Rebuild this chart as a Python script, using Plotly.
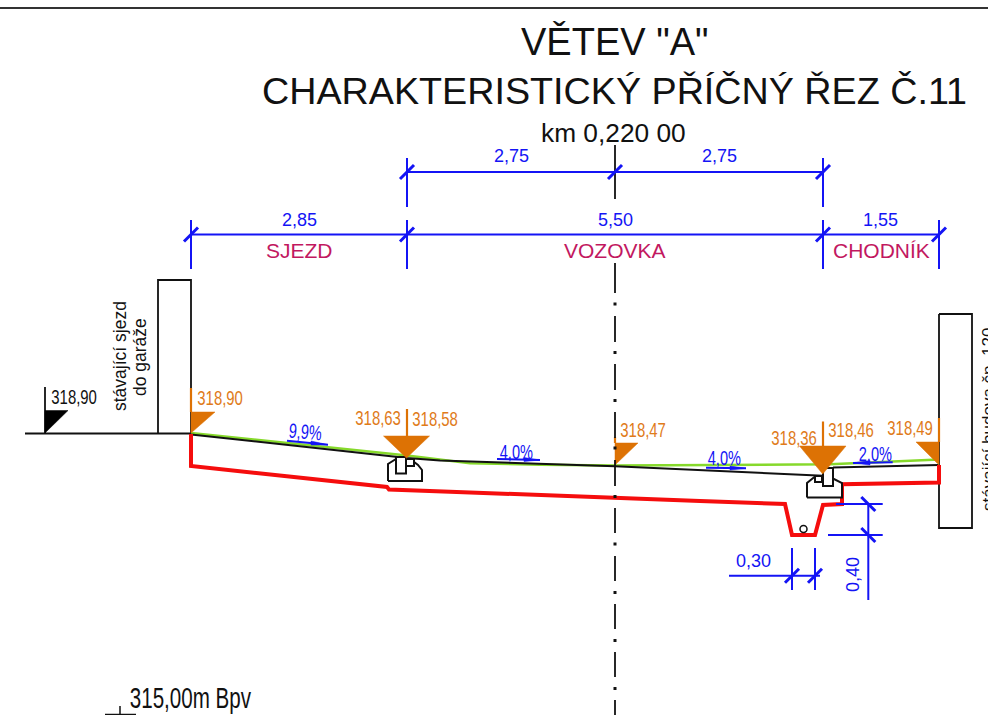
import plotly.graph_objects as go

BLUE = "#1414F5"
ORANGE = "#DD7204"
ORANGE_TXT = "#E07B1A"
RED = "#F50D0D"
GREEN = "#86D92B"
BLACK = "#111111"
MAGENTA = "#C2185F"
SANS = "Liberation Sans"
NARROW = "Liberation Sans, Arial"   # these labels get squeezed horizontally, as on the sheet
NARROW_SCALE = 0.71

# --- drawing geometry ---
top_border = [(0, 8), (988, 8)]
ground = [(25, 433.5), (191, 433.5)]
left_wall = [(158, 433.5), (158, 280), (191, 280), (191, 433.5)]
right_wall = [(939, 314), (972, 314), (972, 528), (939, 528), (939, 314)]
surface_road = [(191, 434.5), (407, 458), (440, 460.5), (615, 466.3), (823, 475.7)]
surface_walk = [(833, 467.5), (939, 465)]
design_line = [(191, 433), (407, 455.5), (470, 463.3), (540, 464.7), (615, 465.5), (830, 464.3), (939, 459.5)]
subgrade = [(191, 434), (191, 466), (387, 487), (389, 489.5), (450, 491.7), (700, 501), (785, 504),
            (792, 535), (815, 535), (823, 505), (842, 504), (842, 484.3), (939, 482.5), (939, 465)]
curb_left_foot = [(388, 481), (388, 464), (396, 459), (414, 462), (418, 465), (422, 470), (422, 481), (388, 481)]
curb_left_block = [(396, 457), (406, 457), (406, 473.5), (396, 473.5), (396, 457)]
curb_left_small = [(406, 459), (414, 459), (414, 466), (406, 466), (406, 459)]
curb_right_foot = [(807, 497.5), (807, 483), (815, 476.5), (834, 479), (842, 483), (842, 497.5), (807, 497.5)]
curb_right_block = [(823, 468), (833, 468), (833, 486), (823, 486), (823, 468)]
curb_right_small = [(815, 476), (822, 476), (822, 482), (815, 482), (815, 476)]
drain_x = [803.5]
drain_y = [529]

center_dashes = [(145, 199), (263, 293), (316, 342), (364, 390), (412, 438), (460, 486), (508, 533),
                 (556, 581), (604, 629), (652, 677), (700, 715)]
center_dots = [304, 352.5, 400.5, 448, 496.5, 544, 592.5, 640.5, 688.5]
center_x = 615

datum_stem = [(45, 387), (45, 433)]
datum_flag = [(45, 410.5), (68, 410.5), (45, 433)]
bpv_line = [(105, 714.5), (136, 714.5)]
bpv_tick = [(120, 706), (120, 714.5)]

orange_flags = [
    [(191, 412), (215, 412), (191, 433)],
    [(615, 443), (638, 443), (615, 465)],
    [(916, 442), (939, 442), (939, 465)],
    [(383.5, 436), (429.5, 436), (406.5, 458)],
    [(799.5, 446), (846, 446), (822.7, 474)],
]
orange_stems = [
    [(191, 388), (191, 412)],
    [(615, 437), (615, 443)],
    [(939, 418), (939, 442)],
    [(407, 409), (407, 436)],
    [(823, 421.5), (823, 446)],
]

dim_lines = [
    [(407, 172), (823, 172)], [(191, 234.5), (939, 234.5)],
    [(407, 158), (407, 207)], [(823, 158), (823, 207)],
    [(191, 220), (191, 269)], [(407, 220), (407, 269)], [(823, 220), (823, 269)], [(939, 220), (939, 269)],
    [(729, 575.7), (820, 575.7)], [(792, 548), (792, 590)], [(815, 548), (815, 590)],
    [(868.3, 504), (868.3, 600)], [(836, 504), (882.7, 504)], [(828, 535), (882.7, 535)],
]
ticks_rising = [(407, 172), (615, 172), (823, 172), (191, 234.5), (407, 234.5), (823, 234.5), (939, 234.5),
                (792, 575.7), (815, 575.7)]
ticks_falling = [(868.3, 504), (868.3, 535)]
tick_half = 7

slope_lines = [[(287, 440.7), (328, 444.7)], [(497, 459), (540, 460)], [(706, 467.7), (746, 468.3)], [(853, 463), (892.7, 462.3)]]
slope_heads = [
    [(311, 441), (328, 444.7), (311, 445)],
    [(524, 457.5), (540, 460), (524, 461.5)],
    [(730, 466), (746, 468.3), (730, 470)],
    [(870, 460.5), (853, 463), (870, 465)],
]

# text, x, y, size, colour, family, angle
labels = [
    ('VĚTEV "A"', 614, 42, 38, BLACK, SANS, 0),
    ("CHARAKTERISTICKÝ PŘÍČNÝ ŘEZ Č.11", 614, 91, 37.7, BLACK, SANS, 0),
    ("km 0,220 00", 613.5, 133, 26.3, BLACK, SANS, 0),
    ("2,75", 511, 156, 18, BLUE, SANS, 0),
    ("2,75", 719, 156, 18, BLUE, SANS, 0),
    ("2,85", 299, 219.5, 18, BLUE, SANS, 0),
    ("5,50", 615, 219.5, 18, BLUE, SANS, 0),
    ("1,55", 880, 219.5, 18, BLUE, SANS, 0),
    ("SJEZD", 299, 250, 21, MAGENTA, SANS, 0),
    ("VOZOVKA", 615, 250, 21, MAGENTA, SANS, 0),
    ("CHODNÍK", 881, 250, 21, MAGENTA, SANS, 0),
    ("318,90", 73.5, 396, 21, BLACK, NARROW, 0),
    ("318,90", 220, 397, 21, ORANGE_TXT, NARROW, 0),
    ("318,63", 378, 417, 21, ORANGE_TXT, NARROW, 0),
    ("318,58", 435, 418, 21, ORANGE_TXT, NARROW, 0),
    ("318,47", 643, 429, 21, ORANGE_TXT, NARROW, 0),
    ("318,36", 794, 437, 21, ORANGE_TXT, NARROW, 0),
    ("318,46", 851, 429, 21, ORANGE_TXT, NARROW, 0),
    ("318,49", 910, 427, 21, ORANGE_TXT, NARROW, 0),
    ("9,9%", 305, 431.5, 20.5, BLUE, NARROW, 5),
    ("4,0%", 516, 451, 20.5, BLUE, NARROW, 0),
    ("4,0%", 724, 457, 20.5, BLUE, NARROW, 0),
    ("2,0%", 875, 453, 20.5, BLUE, NARROW, 0),
    ("0,30", 753, 561, 18, BLUE, SANS, 0),
    ("0,40", 853, 575, 18, BLUE, SANS, -90),
    ("stávající sjezd", 120, 356, 17.5, BLACK, SANS, -90),
    ("do garáže", 140, 357, 17.5, BLACK, SANS, -90),
    ("315,00m Bpv", 190.5, 698, 29, BLACK, NARROW, 0),
]
edge_label = ("stávající budova čp. 120", 977, 513, 17, BLACK, SANS, -90)


def xs(points):
    return [p[0] for p in points]


def ys(points):
    return [p[1] for p in points]


fig = go.Figure()


def line(points, color=BLACK, width=2, fill=None):
    fig.add_trace(go.Scatter(x=xs(points), y=ys(points), mode="lines", hoverinfo="skip",
                             line=dict(color=color, width=width, simplify=False),
                             fill="toself" if fill else "none", fillcolor=fill))


def solid(points, color):
    line(points + [points[0]], color=color, width=0.5, fill=color)


line(top_border, "#333333", 2)
line(ground, BLACK, 2)
line(left_wall, BLACK, 1.8)
line(right_wall, BLACK, 1.8)
line(datum_stem, BLACK, 1.8)
solid(datum_flag, "#000000")
line(bpv_line, BLACK, 1.5)
line(bpv_tick, BLACK, 1.5)

line(design_line, GREEN, 2.5)
line(surface_road, BLACK, 2)
line(surface_walk, BLACK, 2)
line(subgrade, RED, 4)

line(curb_left_foot, BLACK, 2, "white")
line(curb_left_small, BLACK, 2, "white")
line(curb_left_block, BLACK, 2, "white")
line(curb_right_foot, BLACK, 2, "white")
line(curb_right_small, BLACK, 2, "white")
line(curb_right_block, BLACK, 2, "white")
fig.add_trace(go.Scatter(x=drain_x, y=drain_y, mode="markers", hoverinfo="skip",
                         marker=dict(color="white", size=7, line=dict(color=BLACK, width=1.5))))

for stem in orange_stems:
    line(stem, ORANGE, 2.2)
for flag in orange_flags:
    solid(flag, ORANGE)

for a, b in center_dashes:
    line([(center_x, a), (center_x, b)], BLACK, 1.8)
fig.add_trace(go.Scatter(x=[center_x] * len(center_dots), y=center_dots, mode="markers", hoverinfo="skip",
                         marker=dict(color=BLACK, size=3, symbol="square")))

for seg in dim_lines:
    line(seg, BLUE, 2)
for x0, y0 in ticks_rising:
    line([(x0 - tick_half, y0 + tick_half), (x0 + tick_half, y0 - tick_half)], BLUE, 3)
for x0, y0 in ticks_falling:
    line([(x0 - tick_half, y0 - tick_half), (x0 + tick_half, y0 + tick_half)], BLUE, 3)
for seg in slope_lines:
    line(seg, BLUE, 2)
for head in slope_heads:
    solid(head, BLUE)

for text, x, y, size, color, family, angle in labels:
    fig.add_annotation(x=x, y=y, text=text, showarrow=False, xanchor="center", yanchor="middle",
                       textangle=angle, font=dict(size=size, color=color, family=family))
text, x, y, size, color, family, angle = edge_label
fig.add_annotation(x=x, y=y, text=text, showarrow=False, xanchor="left", yanchor="bottom",
                   textangle=angle, font=dict(size=size, color=color, family=family))

fig.update_layout(width=988, height=715, margin=dict(l=0, r=0, t=0, b=0), showlegend=False,
                  paper_bgcolor="white", plot_bgcolor="white",
                  xaxis=dict(range=[0, 988], visible=False, fixedrange=True),
                  yaxis=dict(range=[715, 0], visible=False, fixedrange=True))

squeeze = (
    "document.body.style.margin='0';document.body.style.overflow='hidden';"
    "document.querySelectorAll('text.annotation-text').forEach(function(el){"
    "if(el.style.fontFamily.indexOf('Arial')>=0){"
    "el.setAttribute('lengthAdjust','spacingAndGlyphs');"
    "el.setAttribute('textLength',String(el.getComputedTextLength()*%s));}});" % NARROW_SCALE
)
fig.write_html("out.html", config=dict(displayModeBar=False), post_script=squeeze)
